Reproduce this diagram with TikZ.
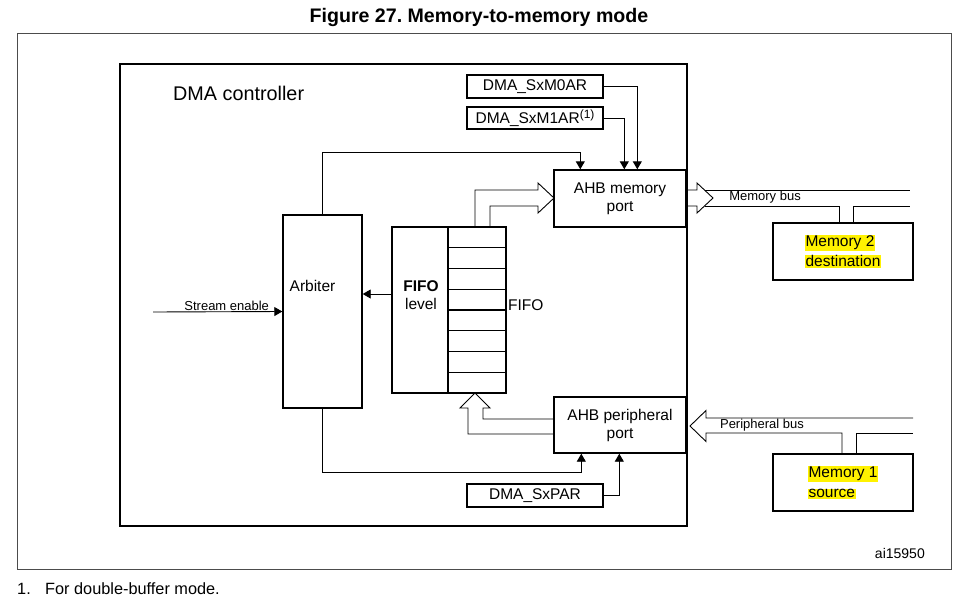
\documentclass[tikz,border=0pt]{standalone}
\usepackage{fontspec}
\setmainfont{Liberation Sans}
\usetikzlibrary{arrows.meta}
\newcommand\hlt[1]{{\setlength{\fboxsep}{0.8pt}\colorbox{yellow}{#1}}}

\begin{document}
\begin{tikzpicture}[x=1pt,y=-1pt,
    font=\fontsize{15.5}{18}\selectfont,
    box/.style 2 args={draw,line width=1.4pt,minimum width=#1,minimum height=#2,inner sep=0pt,align=center},
    arr/.style={-{Triangle[length=8pt,width=9pt]},line width=0.9pt},
    wide/.style={line width=0.9pt,line join=miter},
    lbl/.style={font=\fontsize{13}{15}\selectfont,inner sep=1pt}]
    \useasboundingbox (0,0) rectangle (966,610);
    \node[font=\bfseries\fontsize{19.6}{22}\selectfont,inner sep=0pt] (title) at (479,17) {Figure 27.\ Memory-to-memory mode};
    \draw[line width=0.8pt,black!70] (17,33) rectangle (951,569);
    \node[box={567}{462},line width=2.2pt] (dma) at (403.5,295) {};
    \node[anchor=west,inner sep=0pt,font=\fontsize{19.8}{22}\selectfont] (dmatext) at (173,93) {DMA controller};
    % registers and ports
    \node[box={136}{23}] (m0ar) at (535,86.5) {DMA\_SxM0AR};
    \node[box={136}{22}] (m1ar) at (535,118) {DMA\_SxM1AR\raisebox{4.5pt}{\fontsize{12}{12}\selectfont(1)}};
    \node[box={132}{57}] (ahbm) at (620,198.5) {AHB memory\\port};
    \node[box={132}{56}] (ahbp) at (620,425) {AHB peripheral\\port};
    \node[box={136}{23}] (sxpar) at (535,495.5) {DMA\_SxPAR};
    \node[box={79}{193}] (arb) at (322.5,311.5) {};
    \node[inner sep=0pt] (arbtext) at (312.5,286) {Arbiter};
    % fifo
    \node[box={56}{166}] (lvl) at (420,310) {};
    \node[align=center,inner sep=0pt] (lvltext) at (421,295) {\textbf{FIFO}\\level};
    \foreach \i in {1,...,8} {\node[box={58}{20.75}] (c\i) at (477,{227+20.75*(\i-0.5)}) {};}
    \node[anchor=west,inner sep=0pt] (fifotext) at (508,305) {FIFO};
    % memories
    \node[box={140}{57},align=left,font=\fontsize{15.5}{20}\selectfont] (mem2) at (843,251.5) {\hlt{Memory 2}\\\hlt{destination}};
    \node[box={140}{57},align=left,font=\fontsize{15.5}{20}\selectfont] (mem1) at (843,482.5) {\hlt{Memory 1}\\\hlt{source}};
    % control lines
    \coordinate (se) at (153,312);
    \draw[arr] (se) -- (arb.west) node[lbl,pos=0.57,above] {Stream enable};
    \draw[arr] (arb.north) -- ++(0,-62) -| ([xshift=27pt]ahbm.north west);
    \draw[arr] (m0ar.east) -| ([xshift=84pt]ahbm.north west);
    \draw[arr] (m1ar.east) -| ([xshift=71pt]ahbm.north west);
    \coordinate (lvlout) at ([yshift=16pt]lvl.west);
    \draw[arr] (lvlout) -- (lvlout -| arb.east);
    \draw[arr] (arb.south) -- ++(0,64) -| ([xshift=28pt]ahbp.south west);
    \draw[arr] (sxpar.east) -| ([xshift=66pt]ahbp.south west);
    % data paths
    \draw[wide] (475,227) -- (475,190) -- (538,190) -- (538,183) -- (554,198) -- (538,213) -- (538,206) -- (490,206) -- (490,227);
    \draw[wide] (554,419) -- (483,419) -- (483,408) -- (490,408) -- (475,393) -- (460,408) -- (468,408) -- (468,434) -- (554,434);
    \draw[wide] (686,190) -- (697,190) -- (697,183) -- (713,198) -- (697,213) -- (697,206) -- (686,206);
    \draw[wide] (704.5,190) -- (910,190);
    \draw[wide] (704.5,206) -| ([xshift=-4pt]mem2.north);
    \draw[wide] ([xshift=10pt]mem2.north) |- (910,206);
    \node[lbl] (mbus) at (765,197) {Memory bus};
    \draw[wide] (913,418) -- (706,418) -- (706,410.5) -- (690,426) -- (706,441.5) -- (706,433) -| ([xshift=-1pt]mem1.north);
    \draw[wide] ([xshift=13pt]mem1.north) |- (913,433);
    \node[lbl] (pbus) at (762,425) {Peripheral bus};
    \node[anchor=east,inner sep=0pt,font=\fontsize{14}{16}\selectfont] (code) at (925,553) {ai15950};
    \node[anchor=west,inner sep=0pt,font=\fontsize{16.3}{20}\selectfont] (note) at (17,589) {\makebox[28pt][l]{1.}For double-buffer mode.};
  \end{tikzpicture}
\end{document}
